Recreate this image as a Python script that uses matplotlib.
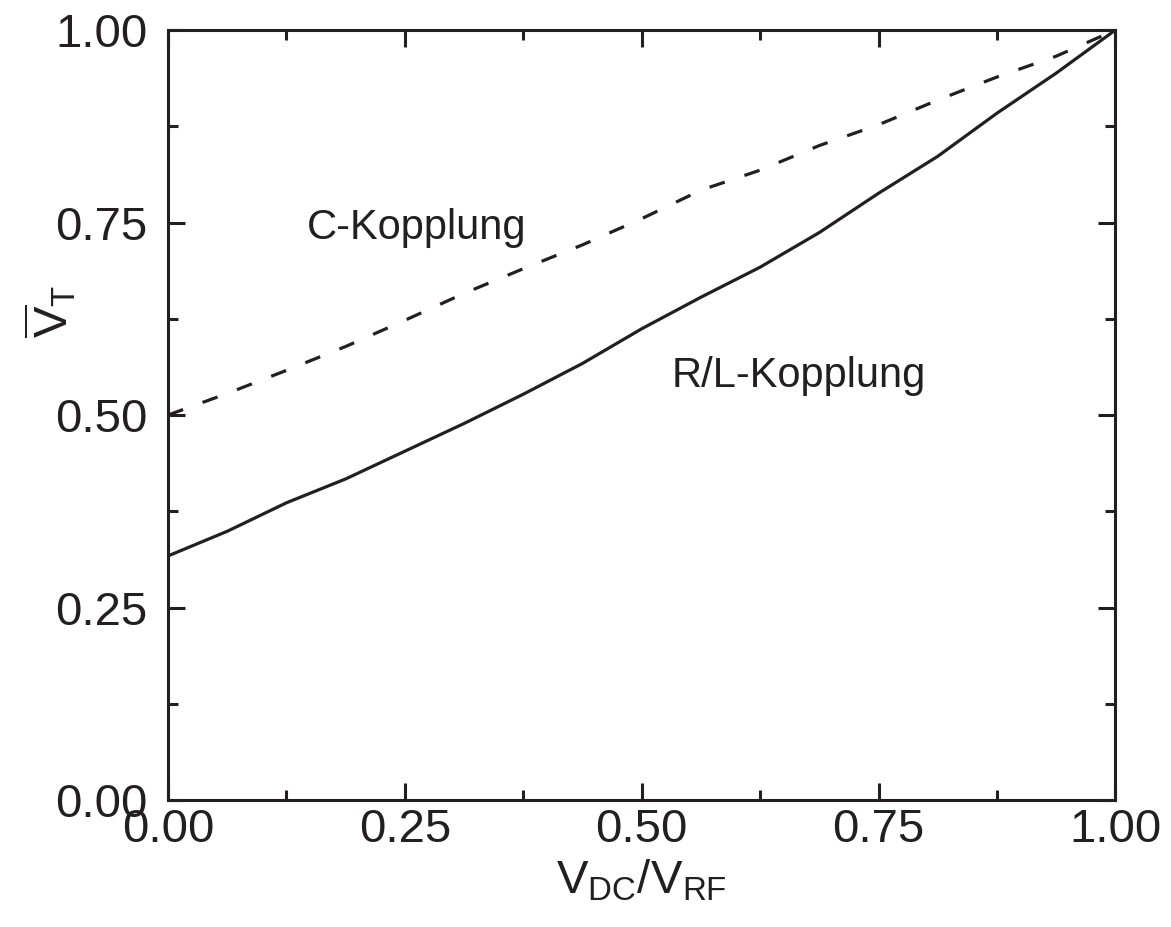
import numpy as np
import matplotlib
matplotlib.use('Agg')
import matplotlib.pyplot as plt
from matplotlib.ticker import MultipleLocator, FormatStrFormatter

plt.rcParams['font.family'] = ['Liberation Sans', 'DejaVu Sans']
plt.rcParams['mathtext.fontset'] = 'custom'
plt.rcParams['mathtext.rm'] = 'Liberation Sans'
plt.rcParams['mathtext.it'] = 'Liberation Sans'
plt.rcParams['mathtext.bf'] = 'Liberation Sans:bold'

ink = '#231f20'

# Werte
v_ratio = [0.0, 0.0625, 0.125, 0.1875, 0.25, 0.3125, 0.375, 0.4375, 0.5,
           0.5625, 0.625, 0.6875, 0.75, 0.8125, 0.875, 0.9375, 1.0]
vt_rl = [0.317, 0.349, 0.386, 0.417, 0.453, 0.489, 0.527, 0.567, 0.612,
         0.653, 0.692, 0.737, 0.788, 0.836, 0.892, 0.944, 1.0]
vt_c = [0.500, 0.528, 0.558, 0.589, 0.623, 0.658, 0.690, 0.721, 0.755,
        0.792, 0.818, 0.850, 0.877, 0.909, 0.939, 0.966, 1.0]

fig = plt.figure(figsize=(11.71, 9.27), dpi=100)
ax = fig.add_axes([0.1435, 0.137, 0.809, 0.8306])

ax.plot(v_ratio, vt_rl, color=ink, lw=2.3)
ax.plot(v_ratio, vt_c, color=ink, lw=2.3, dashes=(5, 6.5))

ax.text(0.147, 0.729, 'C-Kopplung', fontsize=30, color=ink)
ax.text(0.532, 0.536, 'R/L-Kopplung', fontsize=30, color=ink)

ax.set_xlim(0, 1)
ax.set_ylim(0, 1)
for axis in (ax.xaxis, ax.yaxis):
    axis.set_major_locator(MultipleLocator(0.25))
    axis.set_minor_locator(MultipleLocator(0.125))
    axis.set_major_formatter(FormatStrFormatter('%.2f'))

ax.tick_params(which='both', direction='in', top=True, right=True,
               color=ink, width=2.2, labelcolor=ink, labelsize=34)
ax.tick_params(which='major', length=12)
ax.tick_params(which='minor', length=7)
ax.tick_params(axis='x', pad=6)
ax.tick_params(axis='y', pad=15)
for s in ax.spines.values():
    s.set_linewidth(2.2)
    s.set_color(ink)

ax.set_xlabel(r'$\mathregular{V_{DC}/V_{RF}}$', fontsize=34, color=ink, labelpad=4)
ax.set_ylabel(r'$\mathregular{\overline{V}_T}$', fontsize=34, color=ink)
ax.yaxis.set_label_coords(-0.095, 0.635)

fig.savefig('out.png', dpi=100)
